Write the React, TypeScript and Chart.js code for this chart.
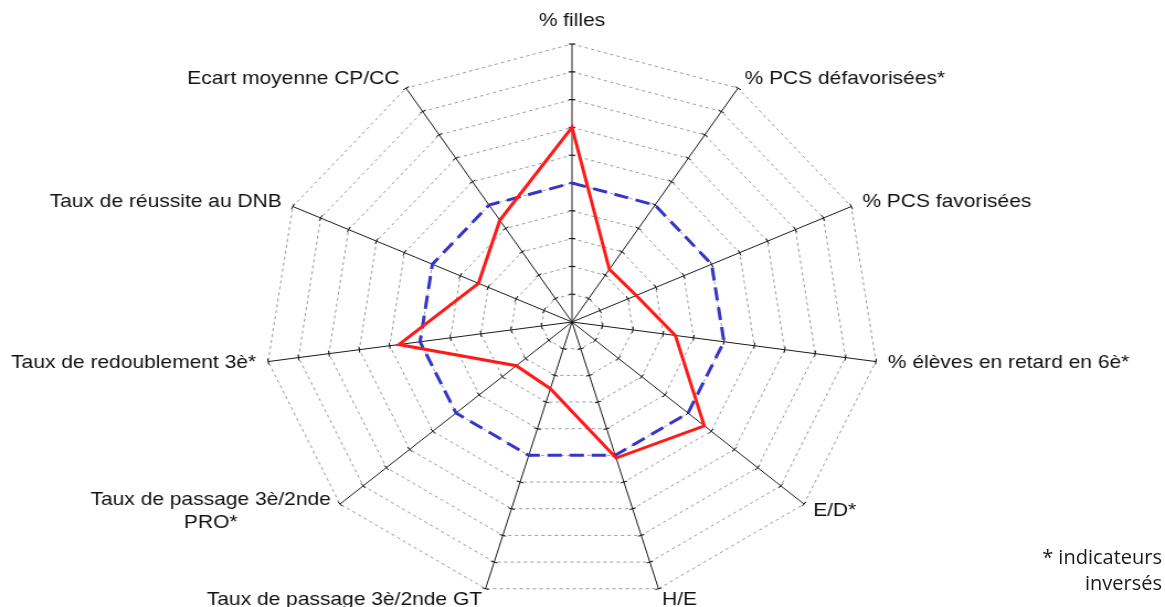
import React, { useEffect, useRef } from "react";
import { Chart, registerables } from "chart.js";

Chart.register(...registerables);

// ---------- data ----------
const categories: (string | string[])[] = [
  "% filles",
  "% PCS défavorisées*",
  "% PCS favorisées",
  "% élèves en retard en 6è*",
  "E/D*",
  "H/E",
  "Taux de passage 3è/2nde GT",
  ["Taux de passage 3è/2nde", "PRO*"],
  "Taux de redoublement 3è*",
  "Taux de réussite au DNB",
  "Ecart moyenne CP/CC",
];
const etablissement = [7, 2.25, 2.3, 3.4, 5.7, 5.1, 2.5, 2.4, 5.7, 3.35, 4.35];
const reference = [5, 5, 5, 5, 5, 5, 5, 5, 5, 5, 5];
const scaleMin = 0;
const scaleMax = 10;
const scaleStep = 1;
const noteLines = ["* indicateurs", "inversés"];

// ---------- plugins ----------
const axisTicksPlugin = {
  id: "axisTicks",
  beforeDatasetsDraw(chart: any) {
    const scale = chart.scales.r;
    const ctx = chart.ctx;
    ctx.save();
    ctx.strokeStyle = "#111";
    ctx.lineWidth = 1;
    const n = chart.data.labels.length;
    for (let i = 0; i < n; i++) {
      const a = scale.getIndexAngle(i) - Math.PI / 2;
      const px = -Math.sin(a);
      const py = Math.cos(a);
      for (let v = scaleMin + scaleStep; v <= scaleMax + 1e-9; v += scaleStep) {
        const p = scale.getPointPositionForValue(i, v);
        ctx.beginPath();
        ctx.moveTo(p.x - px * 3, p.y - py * 3);
        ctx.lineTo(p.x + px * 3, p.y + py * 3);
        ctx.stroke();
      }
    }
    ctx.restore();
  },
};

const axisLabelsPlugin = {
  id: "axisLabels",
  afterDraw(chart: any) {
    const scale = chart.scales.r;
    const ctx = chart.ctx;
    ctx.save();
    ctx.font = '19px "Liberation Sans", Arial, sans-serif';
    ctx.fillStyle = "#111";
    ctx.textBaseline = "middle";
    ctx.textAlign = "center";
    const lh = 23;
    chart.data.labels.forEach((lab: string | string[], i: number) => {
      const lines = Array.isArray(lab) ? lab : [lab];
      const ang = scale.getIndexAngle(i);
      const s = Math.sin(ang);
      const c = Math.cos(ang);
      const pos = scale.getPointPosition(i, scale.drawingArea + 11);
      const blockW = Math.max(...lines.map((l) => ctx.measureText(l).width));
      const blockH = lines.length * lh;
      let cx = pos.x;
      if (Math.abs(s) >= 0.05) cx = s > 0 ? pos.x + blockW / 2 : pos.x - blockW / 2;
      let cy = pos.y;
      if (c > 0.99) cy = pos.y - blockH / 2 - 1;
      else if (c < -0.99) cy = pos.y + blockH / 2;
      lines.forEach((l, k) => {
        ctx.fillText(l, cx, cy - blockH / 2 + lh / 2 + k * lh);
      });
    });
    ctx.restore();
  },
};

export default function App() {
  const canvasRef = useRef<HTMLCanvasElement | null>(null);

  useEffect(() => {
    if (!canvasRef.current) return;
    const chart = new Chart(canvasRef.current, {
      type: "radar",
      data: {
        labels: categories as any,
        datasets: [
          {
            label: "Etablissement",
            data: etablissement,
            borderColor: "#ff1a1a",
            borderWidth: 3,
            fill: false,
            pointRadius: 0,
            tension: 0,
          },
          {
            label: "Référence",
            data: reference,
            borderColor: "#3535c8",
            borderWidth: 3,
            borderDash: [13, 7],
            fill: false,
            pointRadius: 0,
            tension: 0,
          },
        ],
      },
      options: {
        animation: false,
        responsive: true,
        maintainAspectRatio: false,
        layout: { padding: { left: 240, right: 259, top: 44, bottom: 7 } },
        plugins: {
          legend: { display: false },
          tooltip: { enabled: false },
          title: { display: false },
        },
        scales: {
          r: {
            min: scaleMin,
            max: scaleMax,
            ticks: { display: false, stepSize: scaleStep },
            pointLabels: { display: false },
            grid: { circular: false, color: "#9a9a9a", lineWidth: 1, borderDash: [3, 3] } as any,
            border: { dash: [3, 3] } as any,
            angleLines: { color: "#1a1a1a", lineWidth: 1 },
          },
        },
        elements: { point: { radius: 0 }, line: { tension: 0 } },
      } as any,
      plugins: [axisTicksPlugin, axisLabelsPlugin],
    });
    return () => chart.destroy();
  }, []);

  return (
    <div
      style={{
        position: "absolute",
        left: 0,
        top: 0,
        width: 1165,
        height: 607,
        overflow: "hidden",
        background: "#fff",
      }}
    >
      <div
        style={{
          position: "absolute",
          left: 0,
          top: 0,
          width: 1055,
          height: 607,
          transform: "scaleX(1.104265)",
          transformOrigin: "0 0",
        }}
      >
        <canvas ref={canvasRef} style={{ display: "block" }} />
      </div>
      <div
        style={{
          position: "absolute",
          right: 3,
          top: 544,
          textAlign: "right",
          fontFamily: '"Open Sans", "Noto Sans", sans-serif',
          fontSize: 20,
          lineHeight: "26px",
          color: "#1a1a1a",
        }}
      >
        {noteLines.map((l, k) => (
          <div key={k}>{l}</div>
        ))}
      </div>
    </div>
  );
}
